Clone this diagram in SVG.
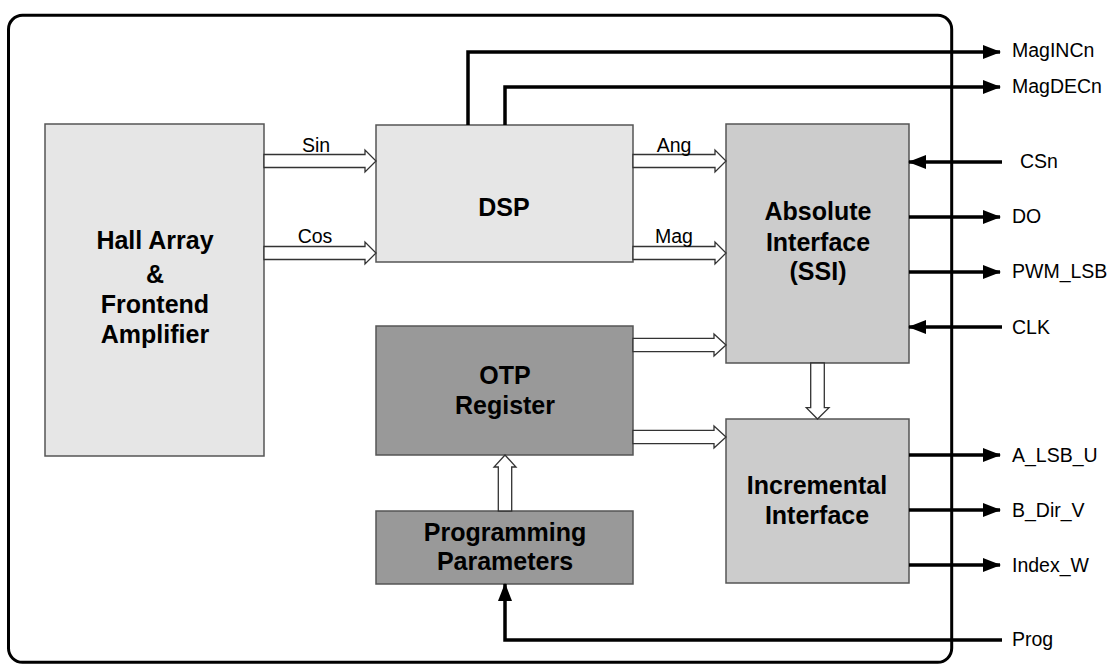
<svg xmlns="http://www.w3.org/2000/svg" width="1116" height="668" viewBox="0 0 1116 668">
<defs>
<style>
.box{stroke:#555;stroke-width:1.5}
.l1{fill:#e6e6e6}
.l2{fill:#cccccc}
.l3{fill:#999999}
.bt{font-family:"Liberation Sans",Arial,sans-serif;font-weight:bold;font-size:25px;fill:#000;text-anchor:middle}
.sig{font-family:"Liberation Sans",Arial,sans-serif;font-size:19.5px;fill:#000}
.mid{text-anchor:middle}
.hollow{fill:#fff;stroke:#333;stroke-width:1.3;stroke-linejoin:miter}
.wire{fill:none;stroke:#000;stroke-width:3.5}
</style>
<marker id="ah" viewBox="0 0 18 14" refX="17" refY="7" markerWidth="18" markerHeight="14" markerUnits="userSpaceOnUse" orient="auto">
<path d="M0,0 L18,7 L0,14 Z" fill="#000"/>
</marker>
</defs>
<rect x="8.5" y="15.3" width="943.2" height="647" rx="14" ry="14" fill="#fff" stroke="#000" stroke-width="3"/>

<g id="hall">
<rect class="box l1" x="45" y="124" width="219" height="332"/>
<text class="bt" x="155" y="249">Hall Array</text>
<text class="bt" x="155" y="283">&amp;</text>
<text class="bt" x="155" y="313">Frontend</text>
<text class="bt" x="155" y="343">Amplifier</text>
</g>
<g id="dsp">
<rect class="box l1" x="376" y="125" width="257" height="137"/>
<text class="bt" x="504" y="216">DSP</text>
</g>
<g id="absolute">
<rect class="box l2" x="726" y="124" width="183" height="239"/>
<text class="bt" x="818" y="220">Absolute</text>
<text class="bt" x="818" y="251">Interface</text>
<text class="bt" x="818" y="280">(SSI)</text>
</g>
<g id="otp">
<rect class="box l3" x="376" y="326" width="257" height="129"/>
<text class="bt" x="505" y="384">OTP</text>
<text class="bt" x="505" y="414">Register</text>
</g>
<g id="incremental">
<rect class="box l2" x="726" y="419" width="183" height="164"/>
<text class="bt" x="817" y="494">Incremental</text>
<text class="bt" x="817" y="524">Interface</text>
</g>
<g id="progparams">
<rect class="box l3" x="376" y="511" width="257" height="73"/>
<text class="bt" x="505" y="541">Programming</text>
<text class="bt" x="505" y="570">Parameters</text>
</g>

<g id="connectors">
<polygon class="hollow" points="264,154.5 365,154.5 365,150 376,161 365,172 365,167.5 264,167.5"/>
<polygon class="hollow" points="264,246.5 365,246.5 365,242 376,253 365,264 365,259.5 264,259.5"/>
<polygon class="hollow" points="633,154.5 715,154.5 715,150 726,161 715,172 715,167.5 633,167.5"/>
<polygon class="hollow" points="633,246.5 715,246.5 715,242 726,253 715,264 715,259.5 633,259.5"/>
<polygon class="hollow" points="633,338.3 714,338.3 714,334 726,345 714,356 714,351.7 633,351.7"/>
<polygon class="hollow" points="633,430.3 714,430.3 714,426 726,437 714,448 714,443.7 633,443.7"/>
<polygon class="hollow" points="810.7,363 824.3,363 824.3,407.7 829,407.7 817.5,419 806.3,407.7 810.7,407.7"/>
<polygon class="hollow" points="498.3,511 511.7,511 511.7,467 516,467 505,455 494,467 498.3,467"/>
<polyline class="wire" points="468,125 468,52 1000,52" marker-end="url(#ah)"/>
<polyline class="wire" points="505,125 505,87 1000,87" marker-end="url(#ah)"/>
<line class="wire" x1="1002" y1="162" x2="909" y2="162" marker-end="url(#ah)"/>
<line class="wire" x1="909" y1="217" x2="1000" y2="217" marker-end="url(#ah)"/>
<line class="wire" x1="909" y1="272" x2="1000" y2="272" marker-end="url(#ah)"/>
<line class="wire" x1="1002" y1="327" x2="909" y2="327" marker-end="url(#ah)"/>
<line class="wire" x1="909" y1="455" x2="1000" y2="455" marker-end="url(#ah)"/>
<line class="wire" x1="909" y1="510" x2="1000" y2="510" marker-end="url(#ah)"/>
<line class="wire" x1="909" y1="565" x2="1000" y2="565" marker-end="url(#ah)"/>
<polyline class="wire" points="1002,640 505,640 505,584" marker-end="url(#ah)"/>
<text class="sig mid" x="316" y="152">Sin</text>
<text class="sig mid" x="315" y="243">Cos</text>
<text class="sig mid" x="674" y="152">Ang</text>
<text class="sig mid" x="674" y="243">Mag</text>
<text class="sig" x="1012" y="57">MagINCn</text>
<text class="sig" x="1012" y="93">MagDECn</text>
<text class="sig" x="1020" y="168">CSn</text>
<text class="sig" x="1012" y="223">DO</text>
<text class="sig" x="1012" y="278">PWM_LSB</text>
<text class="sig" x="1012" y="334">CLK</text>
<text class="sig" x="1012" y="462">A_LSB_U</text>
<text class="sig" x="1012" y="517">B_Dir_V</text>
<text class="sig" x="1012" y="572">Index_W</text>
<text class="sig" x="1012" y="646">Prog</text>
</g>
</svg>
